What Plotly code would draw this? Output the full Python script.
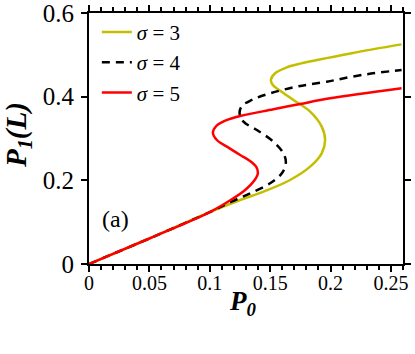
import plotly.graph_objects as go

# sigma = 3 (olive)
p0_s3 = [0, 0.05, 0.10, 0.1252, 0.1445, 0.1665, 0.1831, 0.1927, 0.1955, 0.1927, 0.1831, 0.1693, 0.1583, 0.1522, 0.1506, 0.1541, 0.1638, 0.1748, 0.2175, 0.2588]
p1_s3 = [0, 0.061, 0.124, 0.153, 0.1729, 0.2008, 0.2327, 0.2646, 0.2964, 0.3283, 0.3641, 0.3921, 0.4143, 0.4280, 0.4400, 0.4559, 0.4700, 0.4790, 0.5040, 0.5250]

# sigma = 4 (black dashed)
p0_s4 = [0, 0.05, 0.10, 0.118, 0.1335, 0.150, 0.1597, 0.1630, 0.1610, 0.1527, 0.1390, 0.1279, 0.1247, 0.1266, 0.1349, 0.150, 0.1720, 0.1969, 0.2257, 0.2588]
p1_s4 = [0, 0.061, 0.124, 0.149, 0.169, 0.193, 0.2168, 0.2422, 0.2646, 0.2924, 0.3203, 0.3402, 0.3602, 0.3777, 0.3921, 0.408, 0.4239, 0.4358, 0.4518, 0.4638]

# sigma = 5 (red)
p0_s5 = [0, 0.05, 0.10, 0.1183, 0.1293, 0.1370, 0.1398, 0.1385, 0.1330, 0.1252, 0.1142, 0.1059, 0.1026, 0.1054, 0.1128, 0.1252, 0.1527, 0.1748, 0.1996, 0.2588]
p1_s5 = [0, 0.061, 0.124, 0.1547, 0.1769, 0.2000, 0.2168, 0.2320, 0.2470, 0.2606, 0.2805, 0.2964, 0.3139, 0.3299, 0.3426, 0.3538, 0.3698, 0.3825, 0.3961, 0.4200]

x_ticks = [0, 0.05, 0.1, 0.15, 0.2, 0.25]
x_tick_labels = ["0", "0.05", "0.1", "0.15", "0.2", "0.25"]
y_ticks = [0, 0.2, 0.4, 0.6]
y_tick_labels = ["0", "0.2", "0.4", "0.6"]

FONT = "Liberation Serif"

fig = go.Figure()
fig.add_trace(go.Scatter(x=p0_s3, y=p1_s3, mode="lines", name="<i>σ</i> = 3",
                         line=dict(color="#c3bf00", width=2.5, shape="spline", smoothing=1)))
fig.add_trace(go.Scatter(x=p0_s4, y=p1_s4, mode="lines", name="<i>σ</i> = 4",
                         line=dict(color="black", width=2.5, dash="8px,6px", shape="spline", smoothing=1)))
fig.add_trace(go.Scatter(x=p0_s5, y=p1_s5, mode="lines", name="<i>σ</i> = 5",
                         line=dict(color="#ff0000", width=2.5, shape="spline", smoothing=1)))

axis_common = dict(showline=True, linecolor="black", linewidth=2, mirror="allticks",
                   ticks="outside", ticklen=6, tickwidth=1.5, tickcolor="black",
                   showgrid=False, zeroline=False, automargin=False, ticklabeloverflow="allow")

fig.update_xaxes(range=[0, 0.26], tickvals=x_ticks, ticktext=x_tick_labels,
                 tickfont=dict(family=FONT, size=20, color="black"), ticklabelstandoff=-6,
                 minor=dict(dtick=0.01, ticks="outside", ticklen=4, tickwidth=1.5, tickcolor="black", tick0=0),
                 **axis_common)
fig.update_yaxes(range=[0, 0.6], tickvals=y_ticks, ticktext=y_tick_labels,
                 tickfont=dict(family=FONT, size=25, color="black"), ticklabelstandoff=2,
                 **axis_common)

# axis titles
fig.add_annotation(x=0.49, y=-0.08, xref="paper", yref="paper", text="<b><i>P<sub>0</sub></i></b>",
                   showarrow=False, xanchor="center", yanchor="top",
                   font=dict(family=FONT, size=27, color="black"))
fig.add_annotation(x=-0.226, y=0.514, xref="paper", yref="paper", text="<b><i>P<sub>1</sub>(L)</i></b>",
                   showarrow=False, xanchor="center", yanchor="middle", textangle=-90,
                   font=dict(family=FONT, size=29, color="black"))

fig.add_annotation(x=0.035, y=0.178, xref="paper", yref="paper", text="(a)", showarrow=False,
                   xanchor="left", yanchor="middle", font=dict(family=FONT, size=24, color="black"))

fig.update_layout(
    width=415, height=354,
    margin=dict(l=89, r=12, t=13, b=90),
    paper_bgcolor="white", plot_bgcolor="white",
    font=dict(family=FONT, color="black"),
    legend=dict(x=0.025, y=1.005, xanchor="left", yanchor="top", bgcolor="rgba(0,0,0,0)",
                font=dict(family=FONT, size=21, color="black"), itemwidth=30, tracegroupgap=0),
    showlegend=True,
)

fig.write_html("out.html", config={"displayModeBar": False},
               post_script="document.body.style.margin='0px';")
